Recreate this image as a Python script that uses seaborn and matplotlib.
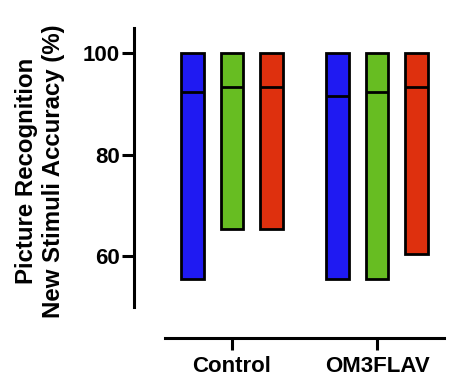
import numpy as np
import pandas as pd
import matplotlib
matplotlib.use("Agg")
import matplotlib.pyplot as plt
import seaborn as sns

groups = ["Control", "OM3FLAV"]
series = ["A", "B", "C"]
colors = ["#1F1AF2", "#67BD22", "#DE300E"]
mins = {"A": [55.5, 55.5], "B": [65.3, 55.5], "C": [65.3, 60.4]}
maxs = {"A": [100, 100], "B": [100, 100], "C": [100, 100]}
medians = {"A": [92.3, 91.6], "B": [93.4, 92.3], "C": [93.4, 93.4]}
yticks = [60, 80, 100]
ylabel = "Picture Recognition\nNew Stimuli Accuracy (%)"

sns.set_theme(style="ticks")
plt.rcParams["font.family"] = ["Liberation Sans", "DejaVu Sans"]
plt.rcParams["font.weight"] = "bold"
plt.rcParams["text.color"] = "black"

fig = plt.figure(figsize=(4.74, 3.90), dpi=100)
ax = fig.add_axes([165/474, 1-307/390, (444-165)/474, (307-28)/390])

offsets = [-0.272, 0.0, 0.272]
width = 0.155
x = np.arange(len(groups))
for s, off, c in zip(series, offsets, colors):
    lo = np.array(mins[s]); hi = np.array(maxs[s]); md = np.array(medians[s])
    ax.bar(x + off, hi - lo, bottom=lo, width=width, color=c,
           edgecolor="black", linewidth=2.0, zorder=2)
    ax.hlines(md, x + off - width/2, x + off + width/2, color="black",
              linewidth=2.0, zorder=3)

ax.set_xlim(-0.462, 1.462)
ax.set_ylim(50, 105)
ax.set_xticks(x)
ax.set_xticklabels(groups)
ax.set_yticks(yticks)
ax.set_yticklabels([str(t) for t in yticks])
sns.despine(ax=ax)
for side in ["left", "bottom"]:
    ax.spines[side].set_position(("outward", 22))
    ax.spines[side].set_linewidth(2.2)
    ax.spines[side].set_color("black")
ax.tick_params(axis="both", length=8.6, width=2.2, color="black",
               labelcolor="black", labelsize=16)
ax.tick_params(axis="y", pad=2)
ax.tick_params(axis="x", pad=5)
for lab in ax.get_xticklabels() + ax.get_yticklabels():
    lab.set_fontweight("bold")
ax.set_facecolor("white")
ax.grid(False)

fig.text(40/474, 1-171/390, ylabel, rotation=90, ha="center", va="center",
         multialignment="center", fontsize=17.3, fontweight="bold",
         linespacing=1.2, color="black")

fig.savefig("out.png", dpi=100, facecolor="white")
